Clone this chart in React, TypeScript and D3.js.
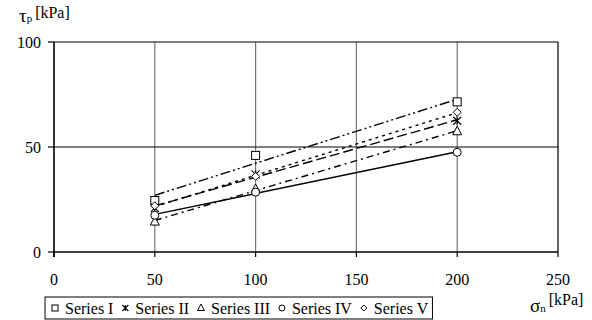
import React from "react";
import * as d3 from "d3";

const xValues = [50, 100, 200];
const seriesNames = ["Series I", "Series II", "Series III", "Series IV", "Series V"];
const seriesI = [24.5, 46, 71.5];
const seriesII = [21, 37, 62.5];
const seriesIII = [14.5, 30, 57.5];
const seriesIV = [17.5, 28.5, 47.5];
const seriesV = [22, 36, 66.5];
const xTicks = [0, 50, 100, 150, 200, 250];
const yTicks = [0, 50, 100];

const seriesValues = [seriesI, seriesII, seriesIII, seriesIV, seriesV];
const markers = ["square", "star", "triangle", "circle", "diamond"];
const dashes = ["10,3,2,3,2,3", "10,4", "7,4,2,4", undefined, "3,4"];

const W = 592, H = 320;
const TS = { fontFamily: "Liberation Serif" };

function Marker({ type, cx, cy, s = 4 }: { type: string; cx: number; cy: number; s?: number }) {
  const common = { fill: "white", stroke: "black", strokeWidth: 1 };
  if (type === "square") return <rect x={cx - s} y={cy - s} width={2 * s} height={2 * s} {...common} />;
  if (type === "circle") return <circle cx={cx} cy={cy} r={s} {...common} />;
  if (type === "triangle")
    return <path d={`M${cx},${cy - s - 1}L${cx + s + 0.5},${cy + s - 0.5}L${cx - s - 0.5},${cy + s - 0.5}Z`} {...common} />;
  if (type === "diamond") return <path d={`M${cx},${cy - s}L${cx + s},${cy}L${cx},${cy + s}L${cx - s},${cy}Z`} {...common} />;
  return (
    <path
      d={`M${cx - s},${cy - s}L${cx + s},${cy + s}M${cx - s},${cy + s}L${cx + s},${cy - s}M${cx},${cy - s}L${cx},${cy + s}`}
      fill="none" stroke="black" strokeWidth={1.1}
    />
  );
}

const x = d3.scaleLinear().domain([0, 250]).range([54, 558]);
const y = d3.scaleLinear().domain([0, 100]).range([252, 42]);

function fit(vals: number[]) {
  const mx = d3.mean(xValues) as number;
  const my = d3.mean(vals) as number;
  const sxy = d3.sum(xValues, (xv, k) => (xv - mx) * (vals[k] - my));
  const sxx = d3.sum(xValues, (xv) => (xv - mx) ** 2);
  const b = sxy / sxx;
  const a = my - b * mx;
  return (xv: number) => a + b * xv;
}

function textW(s: string) {
  const w: Record<string, number> = { S: 8.9, e: 7.1, r: 5.3, i: 4.45, s: 6.2, " ": 4, I: 5.3, V: 11.55 };
  let t = 0;
  for (const c of s) t += w[c] ?? 8;
  return t;
}

export default function App() {
  const xMin = d3.min(xValues) as number;
  const xMax = d3.max(xValues) as number;
  const legendX = 45, legendY = 297;
  let cur = legendX + 7;
  const legendItems = seriesNames.map((name, i) => {
    const pos = cur;
    cur += 14 + textW(name) + 8;
    return { name, i, pos };
  });
  const legendW = cur - legendX - 5;

  return (
    <svg width={W} height={H} style={{ position: "absolute", left: 0, top: 0, display: "block" }}>
      <rect width={W} height={H} fill="white" />
      {xTicks.filter((t) => t > 0).map((t) => (
        <line key={"gx" + t} x1={x(t)} x2={x(t)} y1={y(0)} y2={y(100)} stroke={t === 250 ? "#000" : "#777"} strokeWidth={1.2} />
      ))}
      {yTicks.filter((t) => t > 0).map((t) => (
        <line key={"gy" + t} x1={x(0)} x2={x(250)} y1={y(t)} y2={y(t)} stroke="#000" strokeWidth={1.2} />
      ))}
      <line x1={x(0)} x2={x(0)} y1={y(0) + 5} y2={y(100)} stroke="#000" strokeWidth={1.6} />
      <line x1={x(0)} x2={x(250)} y1={y(0)} y2={y(0)} stroke="#000" strokeWidth={1.6} />
      {yTicks.map((t) => (
        <g key={"ty" + t}>
          <line x1={x(0) - 6} x2={x(0)} y1={y(t)} y2={y(t)} stroke="#000" strokeWidth={1.2} />
          <text x={41} y={y(t)} dy="0.35em" textAnchor="end" fontSize={16} style={TS}>{t}</text>
        </g>
      ))}
      {xTicks.map((t) => (
        <g key={"tx" + t}>
          <line x1={x(t)} x2={x(t)} y1={y(0)} y2={y(0) + 5} stroke="#000" strokeWidth={1.2} />
          <text x={x(t)} y={285} textAnchor="middle" fontSize={16} style={TS}>{t}</text>
        </g>
      ))}
      {seriesValues.map((vals, i) => {
        const f = fit(vals);
        return (
          <line key={"l" + i} x1={x(xMin)} y1={y(f(xMin))} x2={x(xMax)} y2={y(f(xMax))}
            stroke="#000" strokeWidth={1.4} strokeDasharray={dashes[i]} />
        );
      })}
      {seriesValues.map((vals, i) =>
        vals.map((v, k) => <Marker key={"m" + i + "-" + k} type={markers[i]} cx={x(xValues[k])} cy={y(v)} />)
      )}
      <text x={19} y={22} style={TS}>
        <tspan fontSize={19}>τ</tspan>
        <tspan fontSize={11}>p</tspan>
        <tspan fontSize={16} dx={3} dy={-4}>[kPa]</tspan>
      </text>
      <text x={530} y={312} style={TS}>
        <tspan fontSize={19}>σ</tspan>
        <tspan fontSize={11}>n</tspan>
        <tspan fontSize={16} dx={3} dy={-7}>[kPa]</tspan>
      </text>
      <rect x={legendX} y={legendY} width={legendW} height={22} fill="white" stroke="#000" strokeWidth={1} />
      {legendItems.map(({ name, i, pos }) => (
        <g key={"lg" + i}>
          <Marker type={markers[i]} cx={pos + 3} cy={legendY + 11} s={3} />
          <text x={pos + 13} y={legendY + 17} fontSize={16} style={TS}>{name}</text>
        </g>
      ))}
    </svg>
  );
}
